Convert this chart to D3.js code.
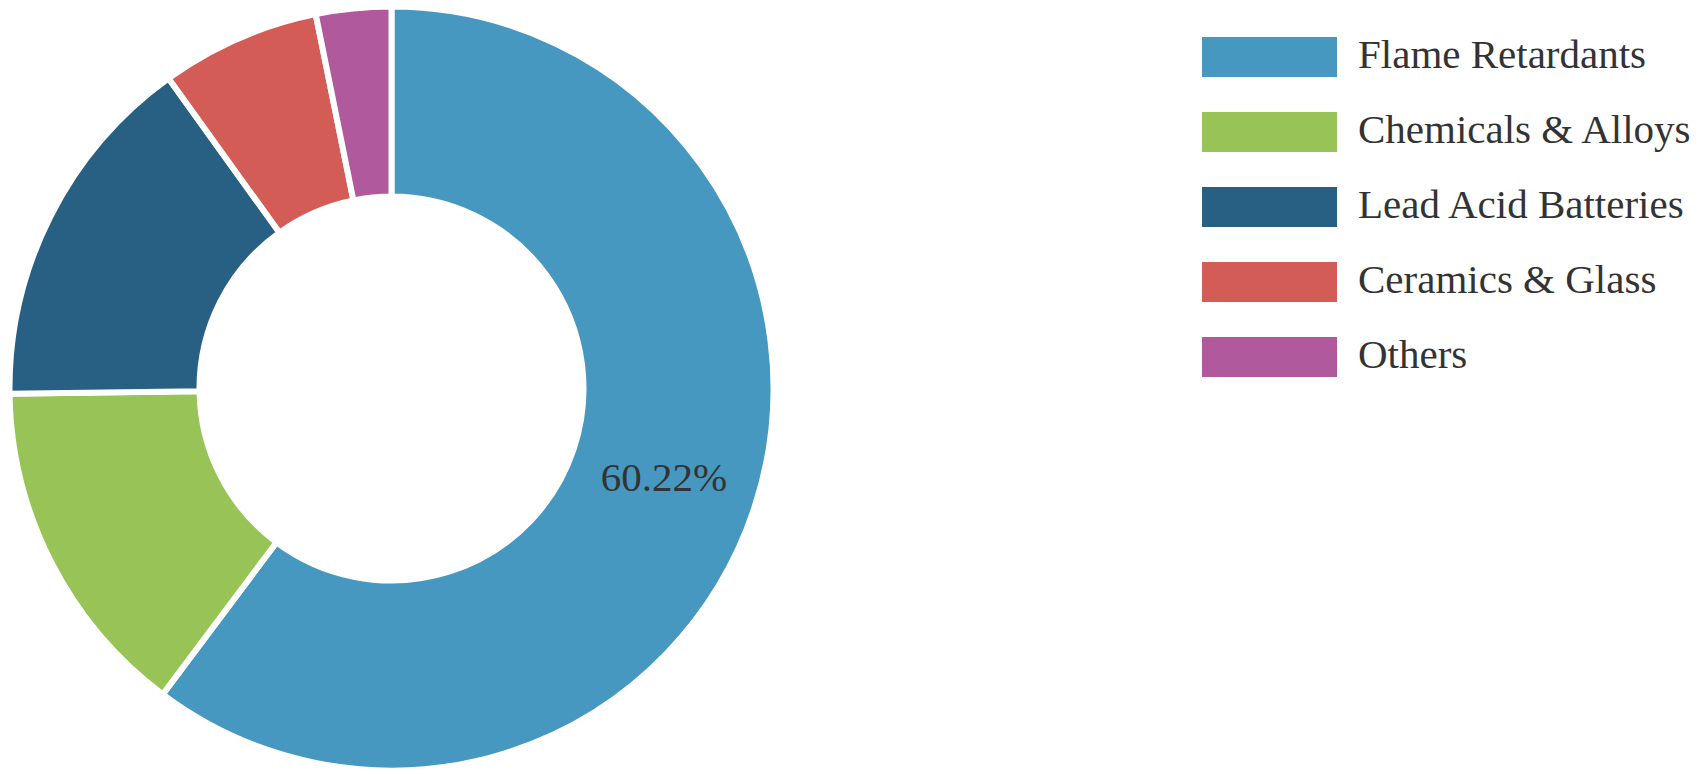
<!DOCTYPE html><html><meta charset="UTF-8">
<title>Lead uses</title>
<style>
body { margin: 0; overflow: hidden; background: #fff; }
svg text { font-family: "Liberation Serif", "Times New Roman", Times, serif; font-size: 41px; fill: #333; }
</style>
<script src="https://cdn.jsdelivr.net/npm/d3@7"></script>
<svg width="1704" height="774"></svg>
<script>

var categories = ["Flame Retardants", "Chemicals & Alloys", "Lead Acid Batteries", "Ceramics & Glass", "Others"],
    shares = [60.22, 14.56, 15.30, 6.74, 3.18],
    colours = ["#4798c0", "#98c356", "#286083", "#d45c57", "#b0599c"],
    shownLabels = ["Flame Retardants"];

var svg = d3.select("svg"),
    cx = 391.5,
    cy = 388.5,
    outer = 382,
    inner = 192;

var data = categories.map(function(c, i) { return {name: c, value: shares[i]}; });

var colour = d3.scaleOrdinal().domain(categories).range(colours);

var pie = d3.pie().value(d => d.value).sort(null);
var arc = d3.arc().innerRadius(inner).outerRadius(outer);

var g = svg.append("g").attr("transform", "translate(" + cx + "," + cy + ")");

var arcs = pie(data);

g.selectAll("path")
  .data(arcs)
  .enter().append("path")
    .attr("d", arc)
    .attr("fill", d => colour(d.data.name))
    .attr("stroke", "#fff")
    .attr("stroke-width", 6)
    .attr("stroke-linejoin", "miter");

// only the big slice gets its percentage
g.selectAll("text")
  .data(arcs.filter(d => shownLabels.indexOf(d.data.name) >= 0))
  .enter().append("text")
    .attr("transform", d => "translate(" + arc.centroid(d) + ")")
    .attr("text-anchor", "middle")
    .attr("dy", "0.28em")
    .text(d => d.data.value.toFixed(2) + "%");

// legend
var legendY = d3.scalePoint().domain(categories).range([37, 337]);

var legend = svg.append("g").selectAll("g")
  .data(categories)
  .enter().append("g")
    .attr("transform", d => "translate(1202," + legendY(d) + ")");

legend.append("rect")
  .attr("width", 135)
  .attr("height", 40)
  .attr("fill", d => colour(d));

legend.append("text")
  .attr("x", 156)
  .attr("y", 20)
  .attr("dy", "0.28em")
  .text(d => d);

</script>
